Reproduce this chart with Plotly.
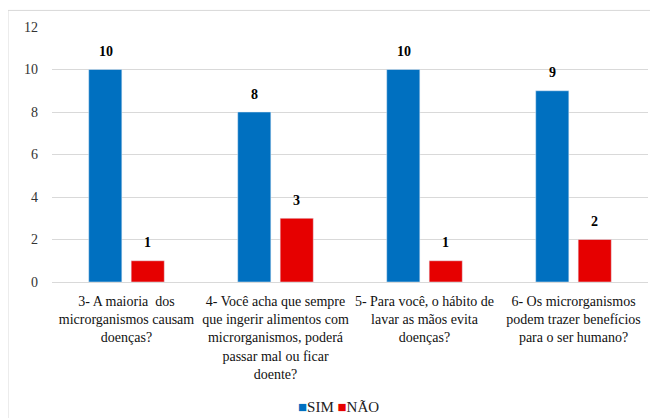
import plotly.graph_objects as go

categories = [
    "3- A maioria  dos<br>microrganismos causam<br>doenças?",
    "4- Você acha que sempre<br>que ingerir alimentos com<br>microrganismos, poderá<br>passar mal ou ficar<br>doente?",
    "5- Para você, o hábito de<br>lavar as mãos evita<br>doenças?",
    "6- Os microrganismos<br>podem trazer benefícios<br>para o ser humano?",
]
sim = [10, 8, 10, 9]
nao = [1, 3, 1, 2]
y_ticks = [0, 2, 4, 6, 8, 10, 12]

FONT = "Liberation Serif"
BLUE = "#0070C0"
RED = "#E60000"

fig = go.Figure()
fig.add_trace(go.Bar(name="SIM", x=categories, y=sim, marker_color=BLUE))
fig.add_trace(go.Bar(name="NÃO", x=categories, y=nao, marker_color=RED))

annotations = []
for cat, s, n in zip(categories, sim, nao):
    for val, shift in ((s, -21), (n, 21)):
        annotations.append(dict(x=cat, y=val, xref="x", yref="y", text=f"<b>{val}</b>",
                                showarrow=False, xshift=shift, yshift=18,
                                font=dict(family=FONT, size=14, color="#000000")))
annotations.append(dict(xref="paper", yref="paper", x=0.48, y=-0.49, xanchor="center",
                        yanchor="middle", showarrow=False,
                        text=f"<span style='color:{BLUE}'>■</span>SIM <span style='color:{RED}'>■</span>NÃO",
                        font=dict(family=FONT, size=15, color="#222222")))

fig.update_layout(
    width=650, height=410,
    margin=dict(l=44, r=10, t=19, b=136, autoexpand=False),
    paper_bgcolor="white", plot_bgcolor="white",
    barmode="group", bargap=0.43, bargroupgap=0.22,
    font=dict(family=FONT, size=14, color="#222222"),
    showlegend=False,
    xaxis=dict(tickfont=dict(family=FONT, size=14, color="#111111"), showline=False,
               ticks="", tickangle=0, automargin=False, ticklabelstandoff=9),
    yaxis=dict(range=[0, 12], tickvals=y_ticks, showgrid=True, gridcolor="#d9d9d9",
               zeroline=True, zerolinecolor="#d9d9d9", zerolinewidth=1,
               tickfont=dict(family=FONT, size=14, color="#333333"), ticks="",
               ticklabelstandoff=13, automargin=False),
    annotations=annotations,
    shapes=[dict(type="rect", xref="paper", yref="paper",
                 x0=-0.0738, x1=1.05, y0=-0.7, y1=1.065,
                 line=dict(color="#d9d9d9", width=1), fillcolor="rgba(0,0,0,0)")],
)

fig.write_html("out.html")
